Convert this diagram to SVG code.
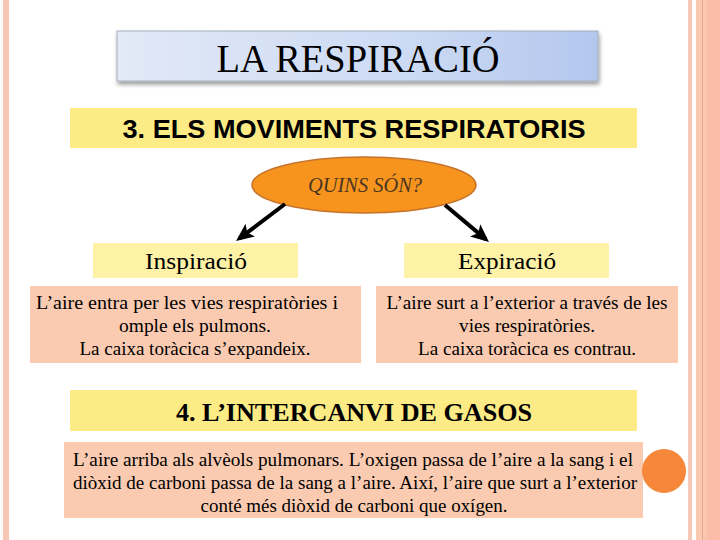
<svg xmlns="http://www.w3.org/2000/svg" width="720" height="540" viewBox="0 0 720 540">
<defs>
<linearGradient id="tg" x1="0" y1="0" x2="1" y2="0">
<stop offset="0" stop-color="#E2E9F7"/>
<stop offset="0.6" stop-color="#CCDAF3"/>
<stop offset="1" stop-color="#B3C7EE"/>
</linearGradient>
<filter id="sh" x="-10%" y="-20%" width="120%" height="160%">
<feGaussianBlur in="SourceAlpha" stdDeviation="2"/>
<feOffset dx="1" dy="3"/>
<feComponentTransfer><feFuncA type="linear" slope="0.4"/></feComponentTransfer>
<feMerge><feMergeNode/><feMergeNode in="SourceGraphic"/></feMerge>
</filter>
<marker id="ah" markerWidth="18" markerHeight="16" refX="14" refY="8" orient="auto" markerUnits="userSpaceOnUse">
<path d="M0,0 L18,8 L0,16 L4,8 Z" fill="#000"/>
</marker>
<style>
text{font-family:'Liberation Serif','Times New Roman','DejaVu Serif',serif;fill:#000}
.sans{font-family:'Liberation Sans',Arial,sans-serif}
.body{font-size:19px;text-anchor:middle}
.yel{fill:#FDEB85}
.lyel{fill:#FEF2A6}
.peach{fill:#FBCBB1}
</style>
</defs>
<rect width="720" height="540" fill="#fff"/>
<g id="border">
<rect x="3" y="0" width="6" height="540" fill="#F8C6B4"/>
<rect x="688" y="0" width="4" height="540" fill="#F8C8B6"/>
<rect x="696" y="0" width="6" height="540" fill="#FBC8B0"/>
<rect x="702" y="0" width="1.5" height="540" fill="#F0A685"/>
<rect x="703.5" y="0" width="3.5" height="540" fill="#FBC6B0"/>
<rect x="707" y="0" width="13" height="540" fill="#FCBDA8"/>
</g>
<g id="title">
<rect x="117" y="31" width="481" height="50" fill="url(#tg)" stroke="#A6AEBE" stroke-width="1" filter="url(#sh)"/>
<text x="358" y="72" font-size="40" text-anchor="middle" textLength="283" lengthAdjust="spacingAndGlyphs">LA RESPIRACIÓ</text>
</g>
<g id="sec3">
<rect class="yel" x="70" y="108" width="567" height="40"/>
<text class="sans" x="354" y="138" font-weight="bold" font-size="25" text-anchor="middle" textLength="463" lengthAdjust="spacingAndGlyphs">3. ELS MOVIMENTS RESPIRATORIS</text>
</g>
<g id="quins">
<ellipse cx="364" cy="185" rx="112" ry="28" fill="#F7941E" stroke="#C5722B" stroke-width="1.5"/>
<text x="365" y="192" font-size="20" font-style="italic" text-anchor="middle" style="fill:#4A3522" textLength="114" lengthAdjust="spacingAndGlyphs">QUINS SÓN?</text>
</g>
<g id="connectors" stroke="#000" stroke-width="4" fill="none">
<line x1="285" y1="204" x2="239.2" y2="238.6" marker-end="url(#ah)"/>
<line x1="445" y1="205" x2="485.9" y2="239.4" marker-end="url(#ah)"/>
</g>
<g id="inspiracio">
<rect class="lyel" x="93" y="243" width="205" height="35"/>
<text x="196" y="269" font-size="24" text-anchor="middle" textLength="102" lengthAdjust="spacingAndGlyphs">Inspiració</text>
</g>
<g id="expiracio">
<rect class="lyel" x="404" y="243" width="205" height="35"/>
<text x="507" y="269" font-size="24" text-anchor="middle" textLength="98" lengthAdjust="spacingAndGlyphs">Expiració</text>
</g>
<g id="insp-text">
<rect class="peach" x="30" y="286" width="331" height="77"/>
<text class="body" x="187" y="309" textLength="302" lengthAdjust="spacingAndGlyphs">L’aire entra per les vies respiratòries i</text>
<text class="body" x="195" y="332" textLength="152" lengthAdjust="spacingAndGlyphs">omple els pulmons.</text>
<text class="body" x="195" y="355" textLength="231" lengthAdjust="spacingAndGlyphs">La caixa toràcica s’expandeix.</text>
</g>
<g id="exp-text">
<rect class="peach" x="376" y="286" width="302" height="77"/>
<text class="body" x="527" y="309" textLength="281" lengthAdjust="spacingAndGlyphs">L’aire surt a l’exterior a través de les</text>
<text class="body" x="527" y="332" textLength="136" lengthAdjust="spacingAndGlyphs">vies respiratòries.</text>
<text class="body" x="527" y="355" textLength="218" lengthAdjust="spacingAndGlyphs">La caixa toràcica es contrau.</text>
</g>
<g id="sec4">
<rect class="yel" x="70" y="390" width="567" height="41"/>
<text x="354" y="421" font-size="25" font-weight="bold" text-anchor="middle" textLength="356" lengthAdjust="spacingAndGlyphs">4. L’INTERCANVI DE GASOS</text>
</g>
<g id="gas-text">
<rect class="peach" x="64" y="442" width="579" height="76"/>
<text class="body" x="353" y="466" textLength="560" lengthAdjust="spacingAndGlyphs">L’aire arriba als alvèols pulmonars. L’oxigen passa de l’aire a la sang i el</text>
<text class="body" x="355" y="489" textLength="564" lengthAdjust="spacingAndGlyphs">diòxid de carboni passa de la sang a l’aire. Així, l’aire que surt a l’exterior</text>
<text class="body" x="354" y="512" textLength="307" lengthAdjust="spacingAndGlyphs">conté més diòxid de carboni que oxígen.</text>
</g>
<g id="dot">
<circle cx="664" cy="471" r="22" fill="#F7873A"/>
</g>
</svg>
